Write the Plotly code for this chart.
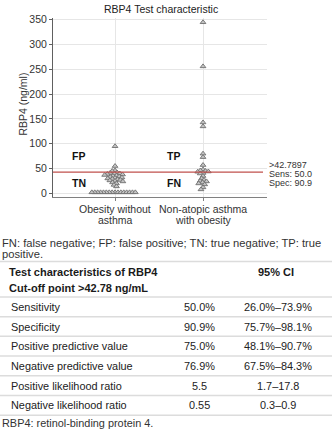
import math
import plotly.graph_objects as go

# ---------------- data ----------------
categories = ["Obesity without<br>asthma", "Non-atopic asthma<br>with obesity"]
group1_values = [95, 55, 46, 45,
                 42, 41, 40, 40, 39, 38, 37, 36, 35, 34, 33, 32, 31, 30, 29, 28, 27, 26, 25, 24, 22, 20, 17, 14,
                 2, 2, 2, 2, 2, 2, 2, 2, 2, 2, 2, 2, 2, 2, 2, 2]
group2_values = [345, 256, 143, 135, 80, 73, 57, 48, 46, 45, 44, 43.5,
                 41, 40, 35, 30, 27, 25, 24, 22, 20, 18, 12, 8]
cutoff = 42.7897
cutoff_labels = [">42.7897", "Sens: 50.0", "Spec: 90.9"]
region_labels = ["FP", "TN", "TP", "FN"]
y_ticks = [0, 50, 100, 150, 200, 250, 300, 350]

footnote_lines = ["FN: false negative; FP: false positive; TN: true negative; TP: true", "positive."]
table_header = ["Test characteristics of RBP4", "Cut-off point >42.78 ng/mL", "95% CI"]
row_labels = ["Sensitivity", "Specificity", "Positive predictive value",
              "Negative predictive value", "Positive likelihood ratio", "Negative likelihood ratio"]
row_values = ["50.0%", "90.9%", "75.0%", "76.9%", "5.5", "0.55"]
row_ci = ["26.0%–73.9%", "75.7%–98.1%", "48.1%–90.7%", "67.5%–84.3%", "1.7–17.8", "0.3–0.9"]
footer = "RBP4: retinol-binding protein 4."

# ---------------- layout geometry ----------------
W, H = 332, 437
PX_L, PX_R, PX_T, PX_B = 53, 267, 14, 196
X_RANGE = [-0.705, 1.727]
Y_RANGE = [-8, 354]
px_per_x = (PX_R - PX_L) / (X_RANGE[1] - X_RANGE[0])
px_per_y = (PX_B - PX_T) / (Y_RANGE[1] - Y_RANGE[0])


def py(p):
    return 1 - p / H


def px(p):
    return p / W


def beeswarm(values, d=2.9):
    """horizontal pixel offsets so markers don't overlap (layout only)"""
    order = sorted(range(len(values)), key=lambda i: -values[i])
    placed = []
    offs = [0.0] * len(values)
    for i in order:
        yv = values[i] * px_per_y
        cands = [0.0]
        for (xo, yo) in placed:
            dy = abs(yv - yo)
            if dy < d:
                dx = math.sqrt(d * d - dy * dy)
                cands += [xo + dx, xo - dx]
        cands.sort(key=lambda c: (abs(c), c))
        for c in cands:
            ok = all((c - xo) ** 2 + (yv - yo) ** 2 >= d * d - 1e-6 for (xo, yo) in placed)
            if ok:
                offs[i] = c
                placed.append((c, yv))
                break
    return offs


fig = go.Figure()
for gi, vals in enumerate([group1_values, group2_values]):
    offs = beeswarm(vals)
    xs = [gi + o / px_per_x for o in offs]
    fig.add_trace(go.Scatter(
        x=xs, y=vals, mode="markers",
        marker=dict(symbol="triangle-up", size=5, color="#c4c4c4",
                    line=dict(color="#6f6f6f", width=0.9)),
        showlegend=False, hoverinfo="y"))

line_x_end = X_RANGE[1] - 4 / px_per_x
fig.add_trace(go.Scatter(x=[X_RANGE[0], line_x_end], y=[cutoff, cutoff], mode="lines",
                         line=dict(color="#c0504d", width=1.3), showlegend=False, hoverinfo="skip"))

font_family = "Liberation Sans, Arial, sans-serif"
fig.update_layout(
    width=W, height=H, margin=dict(l=0, r=0, t=0, b=0),
    paper_bgcolor="white", plot_bgcolor="white",
    font=dict(family=font_family, color="#333333", size=10.5),
    xaxis=dict(domain=[px(PX_L), px(PX_R)], range=X_RANGE,
               tickmode="array", tickvals=[0, 1], ticktext=["", ""],
               showgrid=True, gridcolor="#e6e6e6", gridwidth=1,
               showline=True, linecolor="#808080", linewidth=1,
               ticks="outside", ticklen=3, tickcolor="#808080",
               zeroline=False),
    yaxis=dict(domain=[py(PX_B), py(PX_T)], range=Y_RANGE,
               tickvals=y_ticks, showgrid=True, gridcolor="#e6e6e6", gridwidth=1,
               showline=True, linecolor="#606060", linewidth=1,
               ticks="outside", ticklen=3, tickcolor="#606060",
               tickfont=dict(size=10.5, color="#333333"), zeroline=False),
)

ann = []
# title
ann.append(dict(text="RBP4 Test characteristic", x=px(161), y=py(5), xref="paper", yref="paper",
                showarrow=False, font=dict(size=10.5, color="#222222"), xanchor="center", yanchor="middle"))
# y title
ann.append(dict(text="RBP4 (ng/ml)", x=px(23), y=py(102), xref="paper", yref="paper", textangle=-90,
                showarrow=False, font=dict(size=10.5, color="#333333"), xanchor="center", yanchor="middle"))
# category labels (two lines each, tight spacing)
for ci_, cat in enumerate(categories):
    for li, part in enumerate(cat.split("<br>")):
        ann.append(dict(text=part, x=ci_, y=py(207.5 + 11 * li), xref="x", yref="paper", showarrow=False,
                        font=dict(size=10.5, color="#333333"), xanchor="center", yanchor="middle"))
# region labels
for lab, (xv, yv) in zip(region_labels, [(-0.41, 76), (-0.41, 20), (0.67, 76), (0.67, 20)]):
    ann.append(dict(text="<b>%s</b>" % lab, x=xv, y=yv, xref="x", yref="y", showarrow=False,
                    font=dict(size=10.5, color="#111111"), xanchor="center", yanchor="middle"))
# cutoff labels
for lab, ypx in zip(cutoff_labels, [163.5, 172.5, 181.5]):
    ann.append(dict(text=lab, x=px(267), y=py(ypx), xref="paper", yref="paper", showarrow=False,
                    font=dict(size=9, color="#333333"), xanchor="left", yanchor="middle"))
# footnote
for li, part in enumerate(footnote_lines):
    ann.append(dict(text=part, x=0, y=py(242 + 11.5 * li), xref="paper", yref="paper", showarrow=False,
                    font=dict(size=11.2, color="#333333"), xanchor="left", yanchor="middle"))
# table header
ann.append(dict(text="<b>%s</b>" % table_header[0], x=px(7), y=py(272), xref="paper", yref="paper",
                showarrow=False, font=dict(size=11, color="#1a1a1a"), xanchor="left", yanchor="middle"))
ann.append(dict(text="<b>%s</b>" % table_header[1], x=px(7), y=py(287.5), xref="paper", yref="paper",
                showarrow=False, font=dict(size=11, color="#1a1a1a"), xanchor="left", yanchor="middle"))
ann.append(dict(text="<b>%s</b>" % table_header[2], x=px(276), y=py(272), xref="paper", yref="paper",
                showarrow=False, font=dict(size=11, color="#1a1a1a"), xanchor="center", yanchor="middle"))
shapes = []
line_ys = [261, 297, 317, 337, 357, 377, 397, 417]
for ly in line_ys:
    shapes.append(dict(type="line", xref="paper", yref="paper", x0=0, x1=1, y0=py(ly), y1=py(ly),
                       line=dict(color="#dcdcdc", width=1.5)))
for i, (lab, val, ci) in enumerate(zip(row_labels, row_values, row_ci)):
    yrow = 307 + 20 * i
    ann.append(dict(text=lab, x=px(9), y=py(yrow), xref="paper", yref="paper", showarrow=False,
                    font=dict(size=10.9, color="#222222"), xanchor="left", yanchor="middle"))
    ann.append(dict(text=val, x=px(199), y=py(yrow), xref="paper", yref="paper", showarrow=False,
                    font=dict(size=10.9, color="#222222"), xanchor="center", yanchor="middle"))
    ann.append(dict(text=ci, x=px(278), y=py(yrow), xref="paper", yref="paper", showarrow=False,
                    font=dict(size=10.9, color="#222222"), xanchor="center", yanchor="middle"))
ann.append(dict(text=footer, x=0, y=py(425), xref="paper", yref="paper", showarrow=False,
                font=dict(size=10.9, color="#333333"), xanchor="left", yanchor="middle"))

fig.update_layout(annotations=ann, shapes=shapes)
fig.write_html("out.html")
